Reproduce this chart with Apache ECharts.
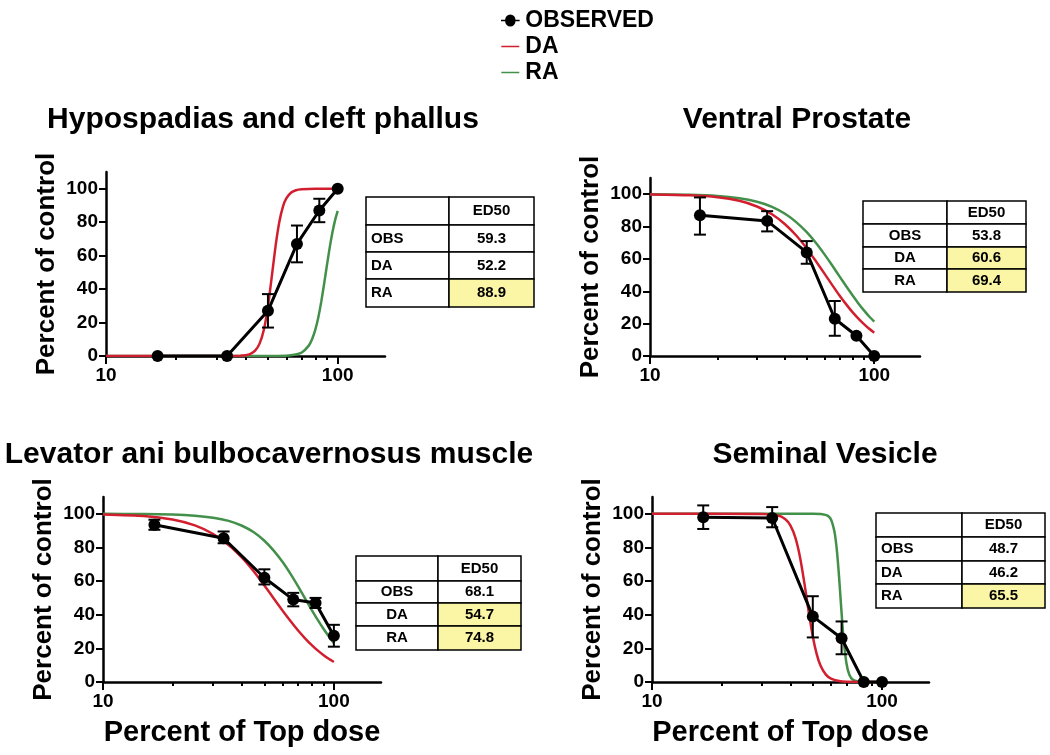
<!DOCTYPE html>
<html>
<head>
<meta charset="utf-8">
<script src="https://cdn.jsdelivr.net/npm/echarts@6/dist/echarts.min.js"></script>
<style>
    html, body {margin: 0; padding: 0; background: #fff;}
    #main {width: 1050px; height: 755px;}
</style>
</head>
<body>
<div id="main"></div>
<script>
// dose, percent of top dose
var doses = [16.7, 33.3, 50, 66.7, 83.3, 100];
var curveX = [10, 15, 20, 25, 30, 35, 40, 45, 50, 55, 60, 65, 70, 75, 80, 85, 90, 95, 100];

// Hypospadias and cleft phallus
var hypoObs = [0, 0, 27, 67, 87, 100];
var hypoLo = [0, 0, 17, 56, 80, 100];
var hypoHi = [0, 0, 37, 78, 94, 100];
var hypoDaX = [10, 30, 38, 40, 42, 44, 46, 48, 50, 52, 54, 56, 58, 60, 63, 66, 70, 80, 100];
var hypoDaY = [0, 0, 0.2, 0.5, 1.3, 3.2, 7.4, 15.7, 29.7, 48, 66.3, 80.3, 89.2, 94.2, 97.7, 99.1, 99.7, 100, 100];
var hypoRaX = [10, 50, 60, 65, 70, 75, 77.5, 80, 82.5, 85, 87.5, 90, 92.5, 95, 97.5, 100];
var hypoRaY = [0, 0, 0.2, 0.7, 2.1, 6.2, 10, 15.6, 23.2, 32.8, 43.7, 54.9, 65.4, 74.3, 81.4, 86.8];
var hypoEd50 = ['59.3', '52.2', '88.9'];

// Ventral Prostate
var vpObs = [87, 83.5, 64, 23, 12.5, 0];
var vpLo = [75, 77, 57, 12.5, 12.5, 0];
var vpHi = [98, 89.5, 71, 34, 12.5, 0];
var vpDaY = [99.8, 99.3, 98.1, 95.9, 92.4, 87.6, 81.4, 74.3, 66.5, 58.5, 50.9, 43.8, 37.4, 31.9, 27.1, 23.1, 19.7, 16.8, 14.4];
var vpRaY = [99.9, 99.6, 98.9, 97.5, 95.3, 92.2, 87.9, 82.6, 76.5, 69.8, 62.8, 55.9, 49.2, 43.1, 37.5, 32.5, 28.2, 24.4, 21.2];
var vpEd50 = ['53.8', '60.6', '69.4'];

// Levator ani bulbocavernosus muscle
var labcObs = [93.5, 85.5, 62, 49, 47, 27.5];
var labcLo = [90.5, 82.5, 58, 45, 44, 21];
var labcHi = [96.5, 89.5, 67, 53, 50, 34];
var labcDaY = [99.6, 98.7, 96.6, 93.1, 88.0, 81.5, 73.9, 65.7, 57.4, 49.5, 42.4, 36.1, 30.6, 26.0, 22.1, 18.8, 16.1, 13.8, 11.9];
var labcRaY = [100, 99.9, 99.6, 98.9, 97.7, 95.8, 92.9, 89.0, 84.0, 78.0, 71.3, 64.1, 56.8, 49.7, 43.1, 37.1, 31.8, 27.2, 23.2];
var labcEd50 = ['68.1', '54.7', '74.8'];

// Seminal Vesicle
var svObs = [98, 97.5, 39, 26, 0, 0];
var svLo = [91, 92, 26.5, 16.5, 0, 0];
var svHi = [105, 104, 51, 36, 0, 0];
var svDaX = [10, 30, 35, 38, 40, 42, 44, 46, 48, 50, 52, 54, 57, 60, 65, 70, 100];
var svDaY = [100, 99.9, 99.1, 96.8, 93, 85.8, 74.2, 58.5, 41.7, 27.1, 16.6, 9.8, 4.4, 2.0, 0.6, 0.15, 0];
var svRaX = [10, 50, 55, 58, 60, 62, 63, 64, 65, 66, 67, 68, 70, 72, 75, 80, 100];
var svRaY = [100, 100, 99.8, 98.9, 96.6, 89.9, 83.6, 74.6, 63, 50, 37.2, 26, 11.3, 4.5, 1.1, 0.2, 0];
var svEd50 = ['48.7', '46.2', '65.5'];

var tableRows = ['OBS', 'DA', 'RA'];
var titles = ['Hypospadias and cleft phallus', 'Ventral Prostate', 'Levator ani bulbocavernosus muscle', 'Seminal Vesicle'];
var yTicks = [0, 20, 40, 60, 80, 100];
var xMajor = [10, 100];
var xMinor = [20, 30, 40, 50, 60, 70, 80, 90];

var FONT = '"Liberation Sans", Arial, sans-serif';
var RED = '#d21f2f';
var GREEN = '#43904a';

function zip(xs, ys) {
    var out = [];
    for (var i = 0; i < xs.length; i++) out.push([xs[i], ys[i]]);
    return out;
}
function zip3(xs, a, b) {
    var out = [];
    for (var i = 0; i < xs.length; i++) out.push([xs[i], a[i], b[i]]);
    return out;
}

/**
 * error bar: vertical line with caps
 */
function errRender(params, api) {
    var x = api.value(0), lo = api.value(1), hi = api.value(2);
    if (hi - lo < 0.5) return {type: 'group', children: []};
    var p1 = api.coord([x, lo]), p2 = api.coord([x, hi]);
    var w = 6;
    var st = {stroke: '#000', lineWidth: 2};
    return {
        type: 'group', children: [
            {type: 'line', shape: {x1: p1[0], y1: p1[1], x2: p2[0], y2: p2[1]}, style: st},
            {type: 'line', shape: {x1: p1[0] - w, y1: p1[1], x2: p1[0] + w, y2: p1[1]}, style: st},
            {type: 'line', shape: {x1: p2[0] - w, y1: p2[1], x2: p2[0] + w, y2: p2[1]}, style: st}
        ]
    };
}

// panel boxes (plot area), x axis 10..160 log, y axis 0..110
var grids = [
    {left: 106, top: 172, width: 279, height: 184},
    {left: 650, top: 178, width: 270, height: 178},
    {left: 103, top: 497, width: 278, height: 185},
    {left: 652, top: 497, width: 277, height: 185}
];

var panels = [
    {obs: hypoObs, lo: hypoLo, hi: hypoHi, da: zip(hypoDaX, hypoDaY), ra: zip(hypoRaX, hypoRaY)},
    {obs: vpObs, lo: vpLo, hi: vpHi, da: zip(curveX, vpDaY), ra: zip(curveX, vpRaY)},
    {obs: labcObs, lo: labcLo, hi: labcHi, da: zip(curveX, labcDaY), ra: zip(curveX, labcRaY)},
    {obs: svObs, lo: svLo, hi: svHi, da: zip(svDaX, svDaY), ra: zip(svRaX, svRaY)}
];

var xAxes = [], yAxes = [], series = [];
for (var i = 0; i < 4; i++) {
    var bottomRow = i >= 2;
    xAxes.push({
        type: 'log', logBase: 10, gridIndex: i, min: 10, max: 160, position: 'bottom',
        name: bottomRow ? 'Percent of Top dose' : '',
        nameLocation: 'middle', nameGap: 36,
        nameTextStyle: {fontFamily: FONT, fontWeight: 'bold', fontSize: 29, color: '#000'},
        axisLine: {lineStyle: {color: '#000', width: 2.5}},
        axisTick: {length: 8, lineStyle: {color: '#000', width: 2}, customValues: xMajor},
        axisLabel: {customValues: xMajor, color: '#000', fontFamily: FONT, fontWeight: 'bold', fontSize: 19, margin: 10},
        splitLine: {show: false}
    });
    yAxes.push({
        type: 'value', gridIndex: i, min: 0, max: 110,
        name: 'Percent of control', nameLocation: 'middle', nameGap: 46,
        nameTextStyle: {fontFamily: FONT, fontWeight: 'bold', fontSize: 26, color: '#000'},
        axisLine: {show: true, lineStyle: {color: '#000', width: 2.5}},
        axisTick: {show: true, length: 7, lineStyle: {color: '#000', width: 2}, customValues: yTicks},
        axisLabel: {customValues: yTicks, color: '#000', fontFamily: FONT, fontWeight: 'bold', fontSize: 19, margin: 8},
        splitLine: {show: false}
    });
    var p = panels[i];
    series.push({
        name: 'OBSERVED', type: 'line', xAxisIndex: i, yAxisIndex: i, data: zip(doses, p.obs),
        symbol: 'circle', symbolSize: 12, showAllSymbol: true,
        lineStyle: {color: '#000', width: 3}, itemStyle: {color: '#000'}, z: 5
    });
    series.push({
        name: 'DA', type: 'line', xAxisIndex: i, yAxisIndex: i, data: p.da,
        symbol: 'none', smooth: 0.2, lineStyle: {color: RED, width: 2.5}, itemStyle: {color: RED}, z: 3
    });
    series.push({
        name: 'RA', type: 'line', xAxisIndex: i, yAxisIndex: i, data: p.ra,
        symbol: 'none', smooth: 0.2, lineStyle: {color: GREEN, width: 2.5}, itemStyle: {color: GREEN}, z: 2
    });
    series.push({
        name: 'OBSERVED', type: 'custom', xAxisIndex: i, yAxisIndex: i,
        data: zip3(doses, p.lo, p.hi), renderItem: errRender, encode: {x: 0, y: [1, 2]},
        itemStyle: {color: '#000'}, z: 4, silent: true
    });
}
// minor ticks (20..90), drawn on an extra axis per panel
for (var j = 0; j < 4; j++) {
    xAxes.push({
        type: 'log', logBase: 10, gridIndex: j, min: 10, max: 160, position: 'bottom',
        axisLine: {show: false},
        axisTick: {length: 4, lineStyle: {color: '#000', width: 2}, customValues: xMinor},
        axisLabel: {show: false},
        splitLine: {show: false}
    });
}

/**
 * ED50 table as graphic rects + texts
 */
function makeTable(x, y, colW, rowH, values, highlight, labelAlign) {
    var els = [];
    var font = 'bold 15px ' + FONT;
    var yy = y;
    for (var r = 0; r < 4; r++) {
        var cx = x;
        for (var c = 0; c < 2; c++) {
            var fill = '#fff';
            if (r > 0 && c === 1 && highlight[r - 1]) fill = '#fbf5a6';
            els.push({
                type: 'rect', shape: {x: cx, y: yy, width: colW[c], height: rowH[r]},
                style: {fill: fill, stroke: '#000', lineWidth: 1.5}
            });
            var txt = '';
            if (r === 0 && c === 1) txt = 'ED50';
            if (r > 0) txt = c === 0 ? tableRows[r - 1] : values[r - 1];
            if (txt) {
                var left = (c === 0 && labelAlign === 'left');
                els.push({
                    type: 'text', z: 10,
                    x: left ? cx + 5 : cx + colW[c] / 2, y: yy + rowH[r] / 2,
                    style: {
                        text: txt, font: font, fill: '#000',
                        align: left ? 'left' : 'center', verticalAlign: 'middle',
                        textAlign: left ? 'left' : 'center', textVerticalAlign: 'middle'
                    }
                });
            }
            cx += colW[c];
        }
        yy += rowH[r];
    }
    return els;
}

var graphics = [];
var titlePos = [[263, 120], [797, 120], [269, 455], [825, 455]];
for (var t = 0; t < 4; t++) {
    graphics.push({
        type: 'text', x: titlePos[t][0], y: titlePos[t][1],
        style: {
            text: titles[t], font: 'bold 30px ' + FONT, fill: '#000',
            align: 'center', verticalAlign: 'middle', textAlign: 'center', textVerticalAlign: 'middle'
        }
    });
}
graphics = graphics
    .concat(makeTable(366, 197, [83, 85], [28, 27, 27, 28], hypoEd50, [false, false, true], 'left'))
    .concat(makeTable(863, 201, [84, 79], [23, 23, 22, 23], vpEd50, [false, true, true], 'center'))
    .concat(makeTable(356, 556, [82, 83], [25, 22, 23, 24], labcEd50, [false, true, true], 'center'))
    .concat(makeTable(876, 513, [86, 83], [24, 24, 23, 24], svEd50, [false, false, true], 'left'));

// legend icons: line with dot, plain lines
var obsIcon = 'path://M0,5.2 L4,5.2 A5,5 0 1 1 14,5.2 L18,5.2 L18,6.8 L14,6.8 A5,5 0 0 1 4,6.8 L0,6.8 Z';
var lineIcon = 'path://M0,0 L0,0.01 L0.01,0.01 Z M0,5.2 L18,5.2 L18,6.8 L0,6.8 Z M18,12 L17.99,12 L18,11.99 Z';

var chart = echarts.init(document.getElementById('main'), null, {renderer: 'canvas'});
chart.setOption({
    backgroundColor: '#fff',
    animation: false,
    legend: {
        data: [
            {name: 'OBSERVED', icon: obsIcon},
            {name: 'DA', icon: lineIcon},
            {name: 'RA', icon: lineIcon}
        ],
        orient: 'vertical', left: 496, top: 4, itemGap: 3,
        itemWidth: 20, itemHeight: 12,
        textStyle: {fontFamily: FONT, fontWeight: 'bold', fontSize: 23, color: '#000'},
        selectedMode: false
    },
    grid: grids,
    xAxis: xAxes,
    yAxis: yAxes,
    series: series,
    graphic: graphics
});
</script>
</body>
</html>
